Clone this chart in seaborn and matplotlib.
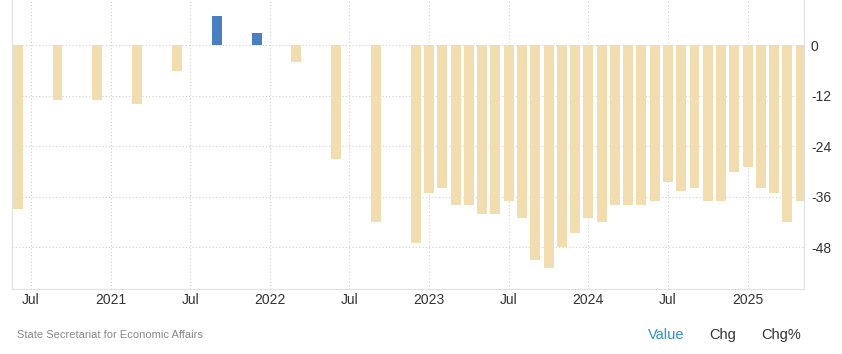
import matplotlib
matplotlib.use("Agg")
import matplotlib.pyplot as plt
import seaborn as sns
import pandas as pd

# ---- data ----
dates = ["2020-06", "2020-09", "2020-12", "2021-03", "2021-06", "2021-09",
         "2021-12", "2022-03", "2022-06", "2022-09", "2022-12",
         "2023-01", "2023-02", "2023-03", "2023-04", "2023-05", "2023-06",
         "2023-07", "2023-08", "2023-09", "2023-10", "2023-11", "2023-12",
         "2024-01", "2024-02", "2024-03", "2024-04", "2024-05", "2024-06",
         "2024-07", "2024-08", "2024-09", "2024-10", "2024-11", "2024-12",
         "2025-01", "2025-02", "2025-03", "2025-04", "2025-05"]
values = [-39, -13, -13, -14, -6, 7,
          3, -4, -27, -42, -47,
          -35, -34, -38, -38, -40, -40,
          -37, -41, -51, -53, -48, -44.5,
          -41, -42, -38, -38, -38, -37,
          -32.5, -34.5, -34, -37, -37, -30,
          -29, -34, -35, -42, -37]
first_month = "2020-06"
last_month = "2025-05"
ytick_values = [0, -12, -24, -36, -48]

all_months = [str(p) for p in pd.period_range(first_month, last_month, freq="M")]
df = pd.DataFrame({"month": dates, "value": values})
df["sign"] = ["pos" if v > 0 else "neg" for v in df["value"]]

W, H = 842, 354
fig = plt.figure(figsize=(W / 100, H / 100), dpi=100)
ax = fig.add_axes([12 / W, 1 - 289 / H, (804 - 12) / W, 289 / H])

sns.barplot(data=df, x="month", y="value", hue="sign", order=all_months,
            palette={"neg": "#F2DDB0", "pos": "#4A7FC1"}, width=0.75,
            errorbar=None, legend=False, saturation=1, ax=ax, zorder=3)

# x ticks at Jan / Jul
xt, xl = [], []
for i, m in enumerate(all_months):
    y, mo = m.split("-")
    if mo == "07":
        xt.append(i); xl.append("Jul")
    elif mo == "01":
        xt.append(i); xl.append(y)
ax.set_xticks(xt)
ax.set_xticklabels(xl)
ax.set_xlim(-0.43, len(all_months) - 0.75)

ax.set_ylim(-57.9, 10.8)
ax.set_yticks(ytick_values)
ax.set_yticklabels([str(v) for v in ytick_values])
ax.yaxis.tick_right()

ax.set_xlabel("")
ax.set_ylabel("")
ax.grid(True, linestyle=(0, (1, 2)), color="#d0d0d0", linewidth=0.8, zorder=0)
ax.set_axisbelow(True)

for s in ["top"]:
    ax.spines[s].set_visible(False)
for s in ["left", "right", "bottom"]:
    ax.spines[s].set_color("#e0e0e0")
    ax.spines[s].set_linewidth(0.8)

ax.tick_params(axis="both", length=0, labelsize=10, colors="#333333",
               labelfontfamily="Liberation Sans")
ax.tick_params(axis="x", pad=3)
ax.tick_params(axis="y", pad=5)

fig.text(17 / W, 1 - 335 / H, "State Secretariat for Economic Affairs",
         color="#8a8a8a", fontsize=8, va="center", family="Liberation Sans")
fig.text(666 / W, 1 - 335 / H, "Value", color="#2e8fd0", fontsize=10.5,
         va="center", ha="center", family="Liberation Sans")
fig.text(723 / W, 1 - 335 / H, "Chg", color="#333333", fontsize=10.5,
         va="center", ha="center", family="Liberation Sans")
fig.text(781 / W, 1 - 335 / H, "Chg%", color="#333333", fontsize=10.5,
         va="center", ha="center", family="Liberation Sans")

fig.savefig("out.png", dpi=100, facecolor="white")
